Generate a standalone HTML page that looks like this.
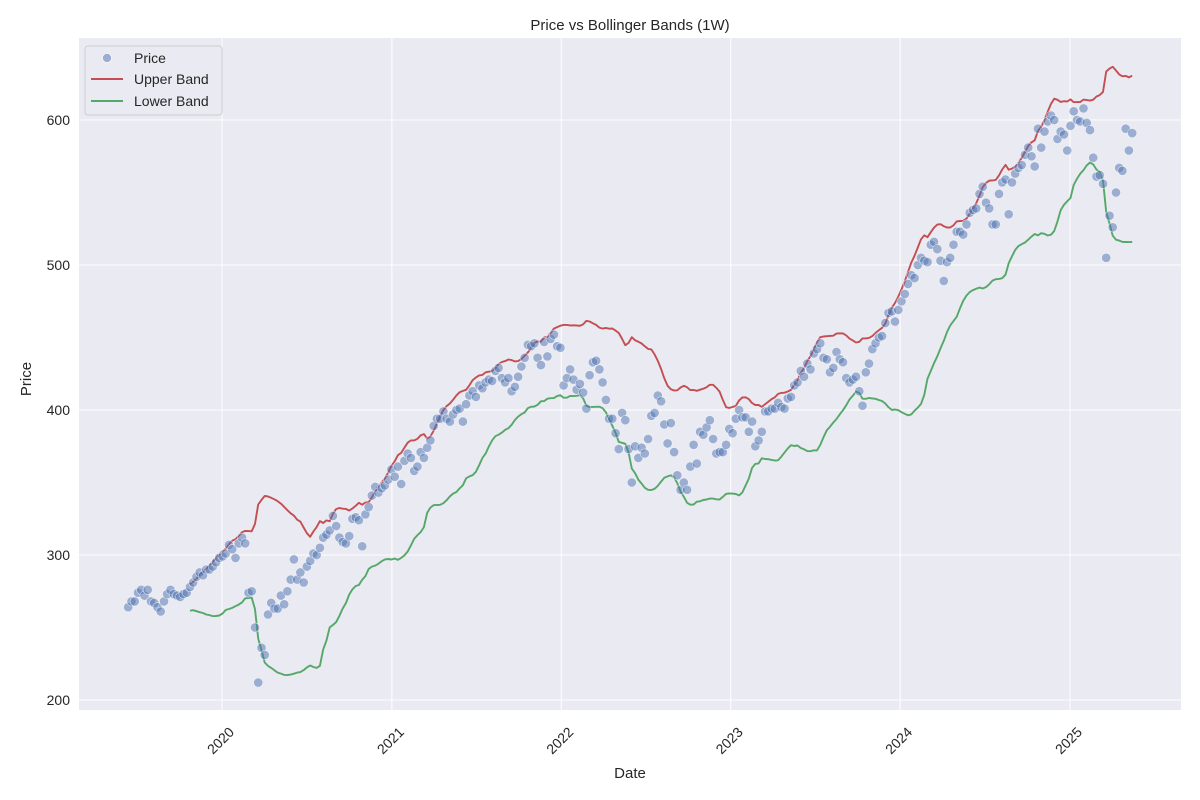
<!DOCTYPE html>
<html><head><meta charset="utf-8"><style>
body{margin:0;background:#fff;}
svg{display:block;font-family:"Liberation Sans","DejaVu Sans",sans-serif;}
</style></head><body>
<svg id="chart" width="1200" height="800" viewBox="0 0 1200 800" xmlns="http://www.w3.org/2000/svg">
<rect width="1200" height="800" fill="#ffffff"/>
<rect x="79" y="38" width="1102" height="672" fill="#eaeaf2"/>
<g id="grid"></g>
<g id="bands"></g>
<g id="points"></g>
<g id="ticks"></g>
<text x="630" y="30" font-size="15" text-anchor="middle" fill="#262626">Price vs Bollinger Bands (1W)</text>
<text x="630" y="778" font-size="15" text-anchor="middle" fill="#262626">Date</text>
<text x="31" y="379" font-size="15" text-anchor="middle" fill="#262626" transform="rotate(-90 31 379)">Price</text>
<g>
<rect x="85" y="46" width="137" height="69" rx="3" fill="#eaeaf2" stroke="#cccccc" stroke-width="1" opacity="0.9"/>
<g><circle cx="107" cy="58" r="4.5" fill="#4c72b0" fill-opacity="0.5" stroke="#fff" stroke-width="0.6"/><text x="134" y="63" font-size="14" fill="#262626">Price</text></g>
<g><line x1="91" y1="79" x2="123" y2="79" stroke="#c44e52" stroke-width="2"/><text x="134" y="84" font-size="14" fill="#262626">Upper Band</text></g>
<g><line x1="91" y1="101" x2="123" y2="101" stroke="#55a868" stroke-width="2"/><text x="134" y="106" font-size="14" fill="#262626">Lower Band</text></g>
</g>
</svg>
<script>
const startDate = "2019-06-13";
const prices = [
264,268,268,274,276,272,276,268,267,264,
261,268,273,276,273,272,271,273,274,278,
281,285,288,286,290,290,292,295,298,299,
301,307,304,298,308,312,308,274,275,250,
212,236,231,259,267,263,263,272,266,275,
283,297,283,288,281,292,296,301,300,305,
312,314,317,327,320,312,309,308,313,325,
326,324,306,328,333,341,347,343,346,348,
352,359,354,361,
349,365,370,367,358,361,371,367,374,379,
389,394,394,399,394,392,397,400,401,392,
404,410,413,409,417,415,419,421,420,427,
429,422,419,422,413,416,423,430,436,445,
444,446,436,431,447,437,449,452,444,443,
417,422,428,421,414,418,412,401,424,433,
434,428,419,407,394,394,384,373,398,393,
373,350,375,367,374,370,380,396,398,410,
406,390,377,391,371,355,345,350,345,361,
376,363,385,383,388,393,380,370,371,371,
376,387,384,394,400,395,395,385,392,375,
379,385,399,399,401,401,405,402,401,408,
409,417,419,427,423,432,428,439,442,446,
436,435,426,429,440,435,433,422,419,421,
423,413,403,426,432,442,446,450,451,460,
467,468,461,469,475,480,487,493,491,500,
505,503,502,514,516,511,503,489,502,505,
514,523,523,521,528,536,538,539,549,554,
543,539,528,528,549,557,559,535,557,563,
567,569,576,581,575,568,594,581,592,599,
603,600,587,592,590,579,596,606,600,599,
608,598,593,574,561,562,556,505,534,526,
550,567,565,594,579,591
];
const yTicks = [200,300,400,500,600];
const xTickYears = [2020,2021,2022,2023,2024,2025];
const bandWindow = 20;

const NS = "http://www.w3.org/2000/svg";
const DAY = 86400000;
const x0ms = Date.UTC(2020,0,1);
function xScale(ms){ return 222 + (ms - x0ms)/DAY * (848/1827); }
function yScale(v){ return 700 - (v-200)*1.45; }
function mk(tag, attrs, parent){ const e=document.createElementNS(NS,tag); for(const k in attrs) e.setAttribute(k,attrs[k]); parent.appendChild(e); return e; }

const startMs = Date.parse(startDate+"T00:00:00Z");
const dates = prices.map((p,i)=>startMs + i*7*DAY);

const grid = document.getElementById('grid');
const ticks = document.getElementById('ticks');
yTicks.forEach(v=>{
  const y=yScale(v);
  const l=mk('line',{x1:79,x2:1181,y1:y,y2:y,stroke:'#ffffff','stroke-width':1},grid);
  
  
  const t=mk('text',{x:70,y:y+5,'font-size':14,'text-anchor':'end',fill:'#262626'},ticks);
  t.textContent=v;
  
  
});
xTickYears.forEach(yr=>{
  const x=xScale(Date.UTC(yr,0,1));
  const l=mk('line',{x1:x,x2:x,y1:38,y2:710,stroke:'#ffffff','stroke-width':1},grid);
  
  
  const tx=x+13, ty=733;
  const t=mk('text',{x:tx,y:ty,'font-size':14,'text-anchor':'end',fill:'#262626',transform:`rotate(-45 ${tx} ${ty})`},ticks);
  t.textContent=yr;
  
  
});

const upper=[], lower=[];
for(let i=bandWindow-1;i<prices.length;i++){
  const w=prices.slice(i-bandWindow+1,i+1);
  const m=w.reduce((a,b)=>a+b,0)/bandWindow;
  const sd=Math.sqrt(w.reduce((a,b)=>a+(b-m)*(b-m),0)/(bandWindow-1));
  upper.push([dates[i],m+2*sd]); lower.push([dates[i],m-2*sd]);
}
const bands=document.getElementById('bands');
function path(arr){ return arr.map((d,i)=>(i?'L':'M')+xScale(d[0]).toFixed(1)+','+yScale(d[1]).toFixed(1)).join(''); }
const up=mk('path',{d:path(upper),fill:'none',stroke:'#c44e52','stroke-width':1.9,'stroke-linejoin':'round'},bands);


const lo=mk('path',{d:path(lower),fill:'none',stroke:'#55a868','stroke-width':1.9,'stroke-linejoin':'round'},bands);



const pts=document.getElementById('points');
prices.forEach((p,i)=>{
  const c=mk('circle',{cx:xScale(dates[i]).toFixed(1),cy:yScale(p).toFixed(1),r:4.6,fill:'#4c72b0','fill-opacity':0.5,stroke:'#ffffff','stroke-width':0.6,'stroke-opacity':0.7},pts);
  
  
});
</script>
</body></html>
